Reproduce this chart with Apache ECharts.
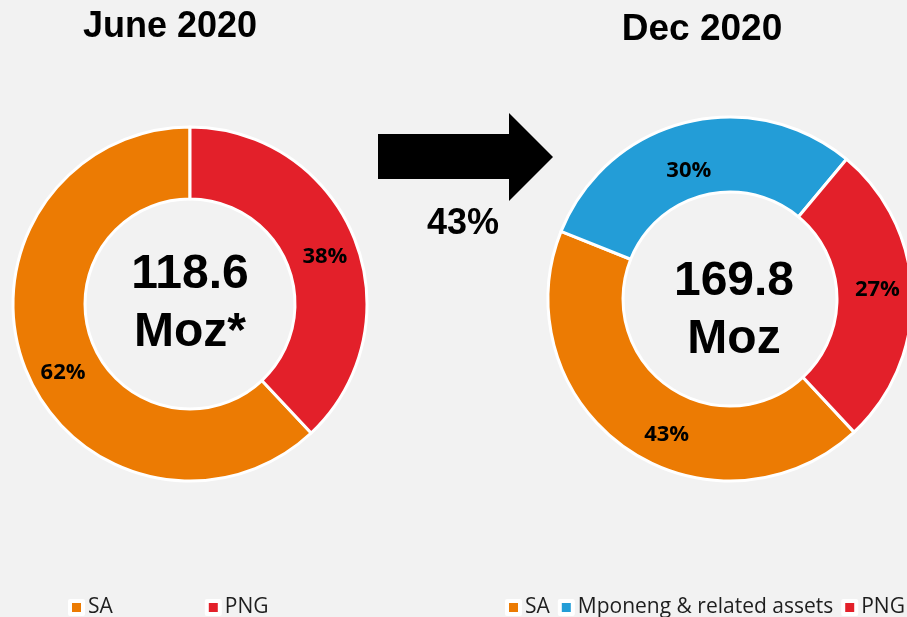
<!DOCTYPE html>
<html>
<head>
<meta charset="utf-8">
<script src="https://cdn.jsdelivr.net/npm/echarts@6/dist/echarts.min.js"></script>
<style>
    html, body { margin: 0; padding: 0; background: #f2f2f2; }
    #chart { width: 907px; height: 617px; }
</style>
</head>
<body>
<div id="chart"></div>
<script>
// Chart data
const periods = ['June 2020', 'Dec 2020'];
const totals = ['118.6\nMoz*', '169.8\nMoz'];
const juneNames = ['SA', 'PNG'];
const juneShare = [62, 38];
const decNames = ['SA', 'Mponeng & related assets', 'PNG'];
const decShare = [43, 30, 27];
const growthLabel = '43%';

// Colours by region
const colors = {
    'SA': '#ec7b03',
    'PNG': '#e3202a',
    'Mponeng & related assets': '#239dd7'
};

// Label nudges (the original labels were moved off the slice middle)
const juneLabelShift = [[7, 16], [1, 6]];
const decLabelShift = [[20, 14], [-5, 15], [0, -5]];

const toData = (names, values) => names.map((name, i) => ({
    name: name,
    value: values[i],
    itemStyle: { color: colors[name] }
}));

const pieBase = {
    type: 'pie',
    clockwise: true,
    avoidLabelOverlap: false,
    itemStyle: { borderColor: '#ffffff', borderWidth: 3 },
    label: {
        show: true,
        position: 'inside',
        formatter: '{c}%',
        color: '#000',
        fontFamily: 'Open Sans',
        fontWeight: 'bold',
        fontSize: 22
    },
    labelLine: { show: false },
    emphasis: { disabled: true }
};

const legendBase = {
    top: 597,
    padding: 0,
    itemWidth: 13,
    itemHeight: 13,
    itemTextGap: 6,
    icon: 'rect',
    itemStyle: { borderColor: '#fff', borderWidth: 4 },
    textStyle: { color: '#1e1e1e', fontFamily: 'Open Sans', fontSize: 21 }
};

const chart = echarts.init(document.getElementById('chart'));
chart.setOption({
    backgroundColor: '#f2f2f2',
    animation: false,
    legend: [
        Object.assign({}, legendBase, { data: juneNames, left: 68, width: 300, itemGap: 92 }),
        Object.assign({}, legendBase, { data: decNames, left: 505, width: 420, itemGap: 8 })
    ],
    series: [
        Object.assign({}, pieBase, {
            name: periods[0],
            center: [190, 304],
            radius: [105, 177],
            startAngle: 90 + juneShare[0] * 3.6,
            data: toData(juneNames, juneShare),
            labelLayout: (p) => ({ dx: juneLabelShift[p.dataIndex][0], dy: juneLabelShift[p.dataIndex][1] })
        }),
        Object.assign({}, pieBase, {
            name: periods[1],
            center: [730, 299],
            radius: [107, 182],
            startAngle: -47,
            data: toData(decNames, decShare),
            labelLayout: (p) => ({ dx: decLabelShift[p.dataIndex][0], dy: decLabelShift[p.dataIndex][1] })
        })
    ],
    graphic: [
        {
            type: 'text', x: 170, y: 27,
            style: { text: periods[0], font: 'bold 36px "Liberation Sans"', fill: '#000', align: 'center', verticalAlign: 'middle' }
        },
        {
            type: 'text', x: 702, y: 30,
            style: { text: periods[1], font: 'bold 37px "Liberation Sans"', fill: '#000', align: 'center', verticalAlign: 'middle' }
        },
        {
            type: 'text', x: 190, y: 304,
            style: { text: totals[0], font: 'bold 48px "Liberation Sans"', lineHeight: 58, fill: '#000', align: 'center', verticalAlign: 'middle' }
        },
        {
            type: 'text', x: 734, y: 311,
            style: { text: totals[1], font: 'bold 48px "Liberation Sans"', lineHeight: 58, fill: '#000', align: 'center', verticalAlign: 'middle' }
        },
        {
            type: 'polygon',
            shape: { points: [[378, 134], [509, 134], [509, 113], [553, 157], [509, 201], [509, 179], [378, 179]] },
            style: { fill: '#000' }
        },
        {
            type: 'text', x: 463, y: 224,
            style: { text: growthLabel, font: 'bold 36px "Liberation Sans"', fill: '#000', align: 'center', verticalAlign: 'middle' }
        }
    ]
});
</script>
</body>
</html>
